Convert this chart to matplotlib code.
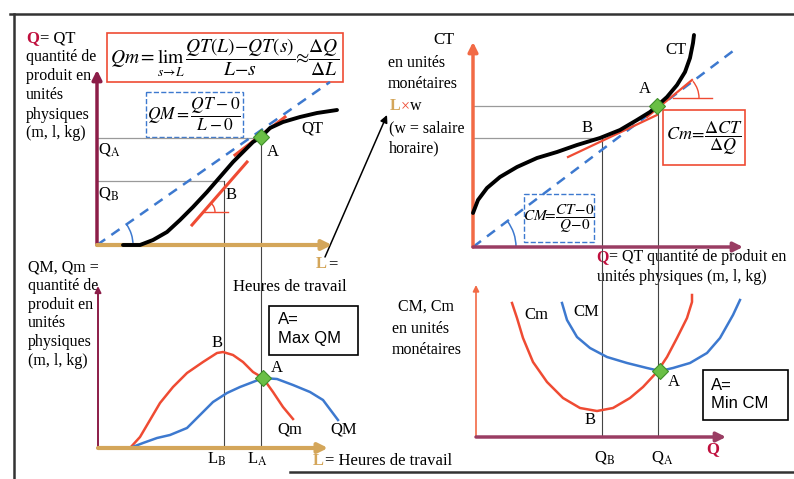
import matplotlib
matplotlib.use("Agg")
import matplotlib.pyplot as plt
from matplotlib.patches import Arc, Rectangle

plt.rcParams['font.family'] = ['Liberation Serif', 'DejaVu Serif']
plt.rcParams['mathtext.fontset'] = 'stix'

# ---- data (1 unit = 10 px, origin at each panel's axes) ----
# panel 1: QT as a function of L
qt_L = [2.6, 4.3, 5.6, 7.0, 8.3, 9.6, 11.0, 12.3, 13.6, 14.6, 15.6, 16.4, 17.3, 18.6, 20.3, 22.0, 24.0]
qt_Q = [0.0, 0.0, 0.5, 1.3, 2.5, 3.8, 5.3, 6.8, 8.3, 9.3, 10.3, 10.8, 11.7, 12.3, 12.8, 13.2, 13.5]
L_A, L_B = 16.4, 12.7
Q_A, Q_B = 10.7, 6.4

# panel 2: Qm and QM as a function of L
qm_L = [3.2, 4.2, 5.2, 6.2, 7.5, 8.9, 10.5, 11.9, 12.5, 13.5, 14.5, 15.5, 16.5, 17.5, 18.5, 19.5]
qm_v = [0.0, 1.1, 2.8, 4.5, 6.1, 7.5, 8.6, 9.5, 9.6, 9.3, 8.6, 7.6, 7.0, 5.6, 4.1, 2.9]
qM_L = [3.2, 4.5, 5.9, 7.2, 8.9, 10.2, 11.5, 12.9, 14.2, 15.5, 16.5, 17.9, 19.5, 21.2, 22.5, 24.0]
qM_v = [0.0, 0.5, 1.0, 1.3, 2.0, 3.3, 4.6, 5.5, 6.1, 6.6, 7.0, 6.9, 6.3, 5.6, 4.8, 2.8]

# panel 3: CT as a function of Q
ct_Q = [0.0, 0.5, 1.4, 2.7, 4.4, 6.4, 8.4, 10.4, 12.7, 14.7, 16.4, 17.7, 18.4, 19.4, 20.4, 21.2, 21.7, 22.0, 22.1]
ct_v = [3.4, 4.7, 5.9, 7.0, 8.0, 8.9, 9.5, 10.2, 10.9, 11.7, 12.7, 13.5, 14.1, 15.0, 16.2, 17.5, 18.9, 20.4, 21.2]
CT_A, CT_B = 14.1, 10.9
QC_A, QC_B = 18.5, 12.9

# panel 4: Cm and CM as a function of Q
cm_Q = [3.6, 4.1, 4.7, 5.7, 7.1, 8.7, 10.4, 12.1, 13.7, 15.4, 16.7, 18.1, 19.1, 20.1, 21.1, 21.6, 21.6]
cm_v = [13.4, 11.9, 9.9, 7.5, 5.5, 3.9, 2.9, 2.6, 2.9, 3.9, 5.0, 6.5, 8.0, 9.9, 11.9, 13.5, 14.2]
cM_Q = [8.6, 9.1, 10.1, 11.4, 13.1, 15.1, 17.1, 18.4, 19.7, 21.4, 23.1, 24.4, 25.7, 26.4]
cM_v = [13.4, 11.7, 10.0, 8.9, 8.0, 7.4, 6.9, 6.6, 6.9, 7.4, 8.4, 9.9, 12.2, 13.7]

RED = '#EF4B33'
BLUE = '#3D79CF'
MAROON = '#8C1D48'
PURPLE = '#9A3D63'
TAN = '#D4A65A'
ORANGE = '#F26A45'
CRIMSON = '#C0103E'
GREEN = '#6ABF45'

W, H = 794, 479
fig = plt.figure(figsize=(W / 100, H / 100), dpi=100)

# overlay axes in pixel coordinates for frame, boxes and texts
ax0 = fig.add_axes([0, 0, 1, 1])
ax0.set_xlim(0, W)
ax0.set_ylim(H, 0)
ax0.axis('off')


def panel(ox, oy):
    ax = fig.add_axes([0, 0, 1, 1])
    ax.set_xlim(-ox / 10, (W - ox) / 10)
    ax.set_ylim(-(H - oy) / 10, oy / 10)
    ax.axis('off')
    ax.patch.set_alpha(0)
    return ax


def axis_arrow(ax, end, color, lw, ms=14):
    ax.annotate('', xy=end, xytext=(0, 0),
                arrowprops=dict(arrowstyle='-|>', color=color, lw=lw,
                                mutation_scale=ms, shrinkA=0, shrinkB=0))


def diamond(ax, x, y):
    ax.plot(x, y, marker='D', ms=8, mfc=GREEN, mec='#3F8F2A', mew=0.8, zorder=6)


# frame
ax0.plot([10, W], [14, 14], color='#333333', lw=1.8)
ax0.plot([14, 14], [14, H], color='#333333', lw=1.8)
ax0.plot([290, W], [472, 472], color='#333333', lw=1.8)

# ---------------- panel 1: QT ----------------
p1 = panel(97, 245)
p1.plot([0, L_A], [Q_A, Q_A], color='#9a9a9a', lw=0.9)
p1.plot([0, L_B], [Q_B, Q_B], color='#9a9a9a', lw=0.9)
p1.plot([L_A, L_A], [Q_A, -20.3], color='#444444', lw=0.8)
p1.plot([L_B, L_B], [Q_B, -20.3], color='#444444', lw=0.8)
p1.plot([0, 23.3], [0, 16.3], color=BLUE, lw=1.8, ls=(0, (4, 3)))
p1.add_patch(Arc((0, 0), 7.2, 7.2, theta1=0, theta2=35, color=BLUE, lw=1.1))
p1.plot([13.8, 18.8], [9.0, 12.8], color=RED, lw=2.2)
p1.plot([9.5, 15.0], [2.0, 8.3], color=RED, lw=2.2)
p1.plot([10.6, 13.1], [3.3, 3.3], color=RED, lw=1.0)
p1.add_patch(Arc((10.6, 3.3), 2.4, 2.4, theta1=0, theta2=49, color=RED, lw=1.0))
p1.plot(qt_L, qt_Q, color='black', lw=2.8, solid_capstyle='round', zorder=4)
axis_arrow(p1, (0, 17.5), MAROON, 2.5)
axis_arrow(p1, (23.5, 0), TAN, 3.0)
diamond(p1, L_A, Q_A + 0.1)

# ---------------- panel 2: QM, Qm ----------------
p2 = panel(98, 448)
p2.plot(qm_L, qm_v, color=RED, lw=1.8)
p2.plot(qM_L, qM_v, color=BLUE, lw=1.8)
axis_arrow(p2, (0, 16.2), MAROON, 1.4, ms=9)
axis_arrow(p2, (23.0, 0), TAN, 3.0)
diamond(p2, 16.5, 7.0)

# ---------------- panel 3: CT ----------------
p3 = panel(473, 247)
p3.plot([0, QC_A], [CT_A, CT_A], color='#9a9a9a', lw=0.9)
p3.plot([0, QC_B], [CT_B, CT_B], color='#9a9a9a', lw=0.9)
p3.plot([QC_A, QC_A], [CT_A, -19.0], color='#444444', lw=0.8)
p3.plot([QC_B, QC_B], [CT_B, -19.0], color='#444444', lw=0.8)
p3.plot([0, 26.4], [0, 19.9], color=BLUE, lw=1.8, ls=(0, (4, 3)))
p3.add_patch(Arc((0, 0), 8.6, 8.6, theta1=0, theta2=37, color=BLUE, lw=1.1))
p3.plot([9.5, 18.4], [9.0, 13.2], color=RED, lw=1.6)
p3.plot([17.4, 21.9], [13.0, 16.7], color=RED, lw=1.6)
p3.plot([20.0, 23.9], [14.9, 14.9], color=RED, lw=1.0)
p3.add_patch(Arc((20.0, 14.9), 5.2, 5.2, theta1=0, theta2=40, color=RED, lw=1.0))
p3.plot(ct_Q, ct_v, color='black', lw=2.8, solid_capstyle='round', zorder=4)
axis_arrow(p3, (0, 20.5), ORANGE, 2.5)
axis_arrow(p3, (27.0, 0), PURPLE, 2.5)
diamond(p3, 18.4, CT_A)

# ---------------- panel 4: CM, Cm ----------------
p4 = panel(476, 437)
p4.plot(cm_Q, cm_v, color=RED, lw=1.8)
p4.plot(cM_Q, cM_v, color=BLUE, lw=1.8)
axis_arrow(p4, (0, 15.2), ORANGE, 1.2, ms=9)
axis_arrow(p4, (25.0, 0), PURPLE, 2.5)
diamond(p4, 18.4, 6.6)

# ---------------- boxes ----------------
ax0.add_patch(Rectangle((107, 33), 236, 49, fill=False, ec=RED, lw=1.2))
ax0.add_patch(Rectangle((146, 92), 97, 45, fill=False, ec=BLUE, lw=1.0, ls='--'))
ax0.add_patch(Rectangle((663, 110), 82, 55, fill=False, ec=RED, lw=1.2))
ax0.add_patch(Rectangle((524, 194), 70, 48, fill=False, ec=BLUE, lw=1.0, ls='--'))
ax0.add_patch(Rectangle((269, 306), 89, 49, fill=False, ec='black', lw=1.2))
ax0.add_patch(Rectangle((703, 370), 85, 50, fill=False, ec='black', lw=1.2))

ax0.text(225, 58, r'$Qm = \lim_{s \to L}\,\dfrac{QT(L) - QT(s)}{L - s} \approx \dfrac{\Delta Q}{\Delta L}$',
         fontsize=14, ha='center', va='center')
ax0.text(194, 114, r'$QM = \dfrac{QT - 0}{L - 0}$', fontsize=12.5, ha='center', va='center')
ax0.text(704, 138, r'$Cm\!=\!\dfrac{\Delta CT}{\Delta Q}$', fontsize=13, ha='center', va='center')
ax0.text(559, 219, r'$CM\!\!=\!\dfrac{CT\!-\!0}{Q\!-\!0}$', fontsize=11, ha='center', va='center')

sans = ['Liberation Sans', 'DejaVu Sans']
ax0.text(278, 320, 'A=', fontsize=12, family=sans, va='center')
ax0.text(278, 338, 'Max QM', fontsize=12, family=sans, va='center')
ax0.text(711, 385, 'A=', fontsize=12, family=sans, va='center')
ax0.text(711, 403, 'Min CM', fontsize=12, family=sans, va='center')

# ---------------- texts ----------------
fs = 11.5
ax0.text(26, 38, 'Q', fontsize=12, color=CRIMSON, fontweight='bold', va='center')
ax0.text(40, 38, '= QT', fontsize=12, va='center')
for y, s in zip([57, 76, 95, 115, 133],
                ['quantité de', 'produit en', 'unités', 'physiques', '(m, l, kg)']):
    ax0.text(26, y, s, fontsize=fs, va='center')

for y, s in zip([267, 286, 305, 323, 342, 361],
                ['QM, Qm =', 'quantité de', 'produit en', 'unités', 'physiques', '(m, l, kg)']):
    ax0.text(28, y, s, fontsize=fs, va='center')

ax0.text(444, 40, 'CT', fontsize=12, ha='center', va='center')
ax0.text(388, 63, 'en unités', fontsize=fs, va='center')
ax0.text(388, 84, 'monétaires', fontsize=fs, va='center')
ax0.text(390, 106, 'L', fontsize=fs, color=TAN, fontweight='bold', va='center')
ax0.text(401, 106, '×', fontsize=fs, color=RED, va='center')
ax0.text(410, 106, 'w', fontsize=fs, va='center')
ax0.text(389, 128, '(w = salaire', fontsize=fs, va='center')
ax0.text(389, 148, 'horaire)', fontsize=fs, va='center')

ax0.text(398, 307, 'CM, Cm', fontsize=fs, va='center')
ax0.text(392, 329, 'en unités', fontsize=fs, va='center')
ax0.text(392, 350, 'monétaires', fontsize=fs, va='center')

ax0.text(596, 257, 'Q', fontsize=fs, color=CRIMSON, fontweight='bold', va='center')
ax0.text(609, 257, '= QT quantité de produit en', fontsize=fs, va='center')
ax0.text(597, 277, 'unités physiques (m, l, kg)', fontsize=fs, va='center')

# curve / point labels
ax0.text(312, 128, 'QT', fontsize=12, ha='center', va='center')
ax0.text(273, 152, 'A', fontsize=12, ha='center', va='center')
ax0.text(231, 195, 'B', fontsize=12, ha='center', va='center')
ax0.text(98, 150, r'Q$_\mathrm{A}$', fontsize=12, va='center')
ax0.text(98, 193, r'Q$_\mathrm{B}$', fontsize=12, va='center')
ax0.text(316, 264, 'L', fontsize=12, color=TAN, fontweight='bold', va='center')
ax0.text(328, 264, '=', fontsize=12, va='center')
ax0.text(290, 287, 'Heures de travail', fontsize=12, ha='center', va='center')
ax0.annotate('', xy=(387, 115), xytext=(325, 257),
             arrowprops=dict(arrowstyle='-|>', color='black', lw=1.1,
                             mutation_scale=11, shrinkA=0, shrinkB=0))

ax0.text(217, 343, 'B', fontsize=12, ha='center', va='center')
ax0.text(277, 368, 'A', fontsize=12, ha='center', va='center')
ax0.text(290, 430, 'Qm', fontsize=12, ha='center', va='center')
ax0.text(344, 430, 'QM', fontsize=12, ha='center', va='center')
ax0.text(217, 459, r'L$_\mathrm{B}$', fontsize=12, ha='center', va='center')
ax0.text(257, 459, r'L$_\mathrm{A}$', fontsize=12, ha='center', va='center')
ax0.text(313, 461, 'L', fontsize=12, color=TAN, fontweight='bold', va='center')
ax0.text(325, 461, '= Heures de travail', fontsize=12, va='center')

ax0.text(676, 50, 'CT', fontsize=12, ha='center', va='center')
ax0.text(645, 89, 'A', fontsize=12, ha='center', va='center')
ax0.text(587, 128, 'B', fontsize=12, ha='center', va='center')

ax0.text(536, 315, 'Cm', fontsize=12, ha='center', va='center')
ax0.text(586, 312, 'CM', fontsize=12, ha='center', va='center')
ax0.text(674, 382, 'A', fontsize=12, ha='center', va='center')
ax0.text(590, 420, 'B', fontsize=12, ha='center', va='center')
ax0.text(605, 458, r'Q$_\mathrm{B}$', fontsize=12, ha='center', va='center')
ax0.text(662, 458, r'Q$_\mathrm{A}$', fontsize=12, ha='center', va='center')
ax0.text(713, 449, 'Q', fontsize=12, color=CRIMSON, fontweight='bold', ha='center', va='center')

fig.savefig('out.png', dpi=100)
